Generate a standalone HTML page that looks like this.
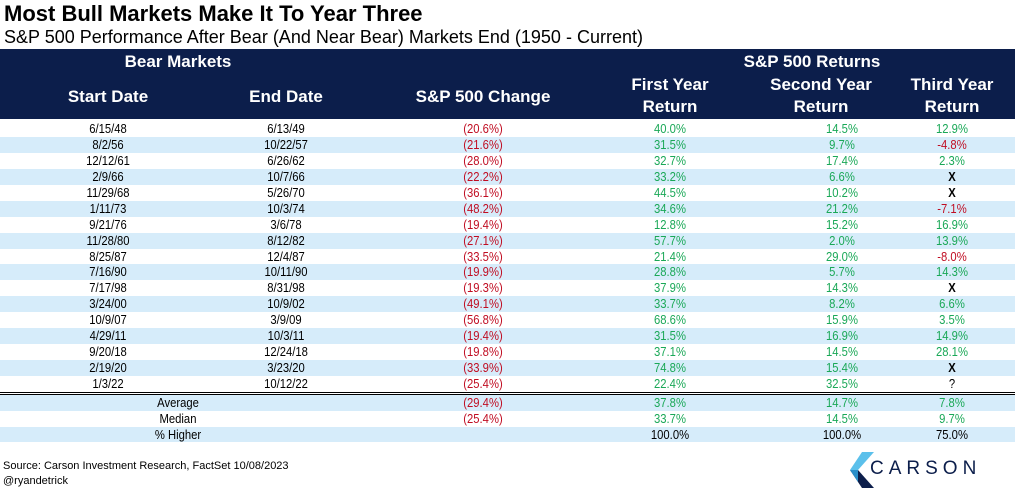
<!DOCTYPE html>
<html><head><meta charset="utf-8"><style>
body{margin:0;width:1015px;height:490px;background:#fff;font-family:"Liberation Sans",Arial,sans-serif;position:relative;overflow:hidden}
.a{position:absolute}
.t{left:4px;top:1px;font-size:22px;font-weight:bold;color:#000}
.s{left:4px;top:27px;font-size:18px;color:#000}
.hd{left:0;top:49px;width:1015px;height:70px;background:#0c1e4b}
.h{position:absolute;color:#fff;font-weight:bold;font-size:17px;text-align:center;line-height:22px;transform:translateX(-50%);white-space:nowrap}
.r{position:absolute;left:0;width:1015px;height:16px;font-size:12.5px;line-height:16px}
.r span{position:absolute;transform:translateX(-50%) scaleX(.9);white-space:nowrap}
.b{background:#d6ecfa}
.g{color:#1aa857}.red{color:#c00d22}
.x{font-weight:bold}
</style></head><body>
<div class="a t">Most Bull Markets Make It To Year Three</div>
<div class="a s">S&amp;P 500 Performance After Bear (And Near Bear) Markets End (1950 - Current)</div>
<div class="a hd">
<div class="h" style="left:178px;top:2px">Bear Markets</div>
<div class="h" style="left:812px;top:2px">S&amp;P 500 Returns</div>
<div class="h" style="left:108px;top:37px">Start Date</div>
<div class="h" style="left:286px;top:37px">End Date</div>
<div class="h" style="left:483px;top:37px">S&amp;P 500 Change</div>
<div class="h" style="left:670px;top:25px">First Year<br>Return</div>
<div class="h" style="left:821px;top:25px">Second Year<br>Return</div>
<div class="h" style="left:952px;top:25px">Third Year<br>Return</div>
</div>
<div id="rows"></div>
<div class="a" style="left:0;top:392px;width:1015px;height:1px;background:#000"></div>
<div class="a" style="left:0;top:394px;width:1015px;height:1px;background:#000"></div>
<div class="r b" style="top:395px"><span style="left:178px">Average</span><span class="red" style="left:483px">(29.4%)</span><span class="g" style="left:670px">37.8%</span><span class="g" style="left:842px">14.7%</span><span class="g" style="left:952px">7.8%</span></div>
<div class="r" style="top:411px"><span style="left:178px">Median</span><span class="red" style="left:483px">(25.4%)</span><span class="g" style="left:670px">33.7%</span><span class="g" style="left:842px">14.5%</span><span class="g" style="left:952px">9.7%</span></div>
<div class="r b" style="top:427px;height:15px"><span style="left:178px">% Higher</span><span style="left:670px">100.0%</span><span style="left:842px">100.0%</span><span style="left:952px">75.0%</span></div>
<div class="a" style="left:3px;top:460px;font-size:11px">Source: Carson Investment Research, FactSet 10/08/2023</div>
<div class="a" style="left:3px;top:475px;font-size:11px">@ryandetrick</div>
<svg class="a" style="left:850px;top:452px" width="24" height="36" viewBox="0 0 24 36"><polygon points="12,0 24,0 8,18 0,18" fill="#5bc0eb"/><polygon points="0,18 8,18 24,36 12,36" fill="#0c1e4b"/><polygon points="0,18 8,18 8,30" fill="#2a8fc9"/></svg>
<div class="a" style="left:870px;top:458px;font-size:19px;letter-spacing:5px;color:#0c1e4b">CARSON</div>
<script>
const d=[["6/15/48","6/13/49","20.6","40.0%","14.5%","12.9%"],["8/2/56","10/22/57","21.6","31.5%","9.7%","-4.8%"],["12/12/61","6/26/62","28.0","32.7%","17.4%","2.3%"],["2/9/66","10/7/66","22.2","33.2%","6.6%","X"],["11/29/68","5/26/70","36.1","44.5%","10.2%","X"],["1/11/73","10/3/74","48.2","34.6%","21.2%","-7.1%"],["9/21/76","3/6/78","19.4","12.8%","15.2%","16.9%"],["11/28/80","8/12/82","27.1","57.7%","2.0%","13.9%"],["8/25/87","12/4/87","33.5","21.4%","29.0%","-8.0%"],["7/16/90","10/11/90","19.9","28.8%","5.7%","14.3%"],["7/17/98","8/31/98","19.3","37.9%","14.3%","X"],["3/24/00","10/9/02","49.1","33.7%","8.2%","6.6%"],["10/9/07","3/9/09","56.8","68.6%","15.9%","3.5%"],["4/29/11","10/3/11","19.4","31.5%","16.9%","14.9%"],["9/20/18","12/24/18","19.8","37.1%","14.5%","28.1%"],["2/19/20","3/23/20","33.9","74.8%","15.4%","X"],["1/3/22","10/12/22","25.4","22.4%","32.5%","?"]];
let h="";d.forEach((r,i)=>{const y=121+i*15.94;const c=v=>v=="X"?"x":v=="?"?"":v[0]=="-"?"red":"g";
h+=`<div class="r ${i%2?'b':''}" style="top:${y}px"><span style="left:108px">${r[0]}</span><span style="left:286px">${r[1]}</span><span class="red" style="left:483px">(${r[2]}%)</span><span class="g" style="left:670px">${r[3]}</span><span class="g" style="left:842px">${r[4]}</span><span class="${c(r[5])}" style="left:952px">${r[5]}</span></div>`});
document.getElementById("rows").innerHTML=h;
</script>
</body></html>
